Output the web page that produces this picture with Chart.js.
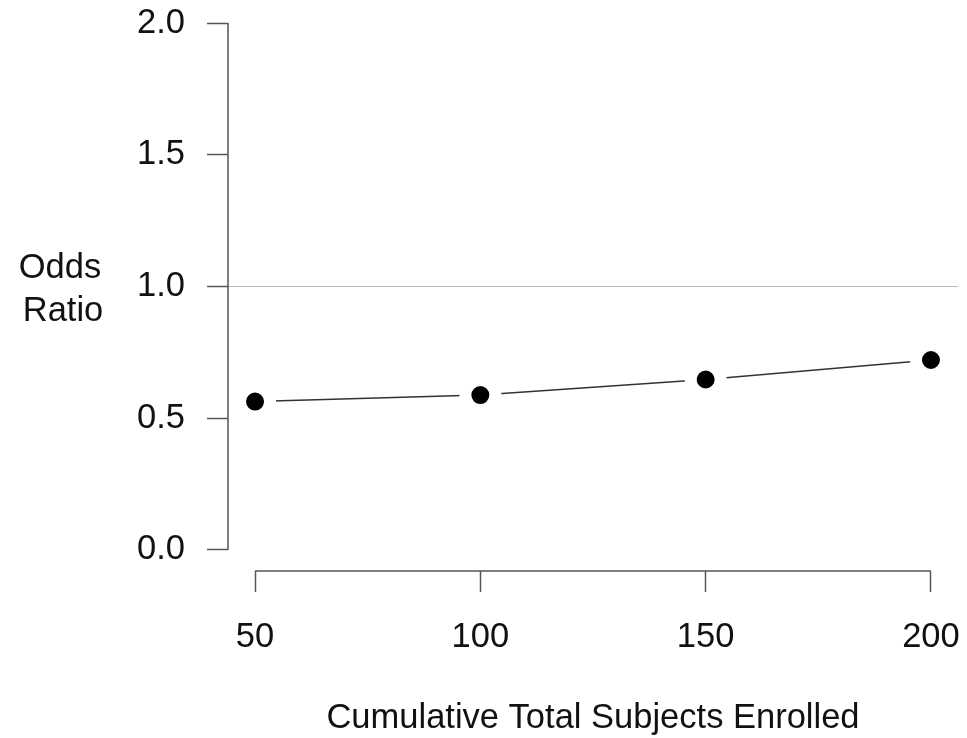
<!DOCTYPE html>
<html>
<head>
<meta charset="utf-8">
<script src="https://cdn.jsdelivr.net/npm/chart.js@4"></script>
<style>
  html, body { margin: 0; padding: 0; background: #fff; }
  #wrap { width: 967px; height: 738px; }
</style>
</head>
<body>
<div id="wrap"><canvas id="oddsChart"></canvas></div>
<script>
// data
const subjects = [50, 100, 150, 200];
const oddsRatio = [0.563, 0.588, 0.647, 0.721];
const xTicks = [50, 100, 150, 200];
const yTicks = [0.0, 0.5, 1.0, 1.5, 2.0];
const refLevel = 1.0;
const xTitle = 'Cumulative Total Subjects Enrolled';
const yTitle = ['Odds', 'Ratio'];

const FONT = '"Liberation Sans", Arial, sans-serif';
const FONT_SIZE = 34.5;

// R style: axes only span the tick range, plus a reference line and titles
const rAxes = {
    id: 'rAxes',
    beforeDatasetsDraw(chart) {
        const { ctx, chartArea, scales: { y } } = chart;
        const yRef = y.getPixelForValue(refLevel);
        ctx.save();
        ctx.strokeStyle = '#bdbdbd';
        ctx.lineWidth = 1;
        ctx.beginPath();
        ctx.moveTo(chartArea.left, yRef);
        ctx.lineTo(chartArea.right, yRef);
        ctx.stroke();
        ctx.restore();
    },
    afterDraw(chart) {
        const { ctx, chartArea, scales: { x, y } } = chart;
        ctx.save();
        ctx.strokeStyle = '#555';
        ctx.lineWidth = 1.5;
        ctx.beginPath();
        ctx.moveTo(chartArea.left, y.getPixelForValue(yTicks[0]));
        ctx.lineTo(chartArea.left, y.getPixelForValue(yTicks[yTicks.length - 1]));
        ctx.moveTo(x.getPixelForValue(xTicks[0]), chartArea.bottom);
        ctx.lineTo(x.getPixelForValue(xTicks[xTicks.length - 1]), chartArea.bottom);
        ctx.stroke();

        ctx.fillStyle = '#111';
        ctx.font = FONT_SIZE + 'px ' + FONT;
        ctx.textAlign = 'center';
        ctx.textBaseline = 'middle';
        ctx.fillText(xTitle, (chartArea.left + chartArea.right) / 2, 718);
        ctx.fillText(yTitle[0], 60, 268);
        ctx.fillText(yTitle[1], 63, 311);
        ctx.restore();
    }
};

const ctx = document.getElementById('oddsChart').getContext('2d');

new Chart(ctx, {
    type: 'line',
    data: {
        labels: subjects,
        datasets: [{
            data: subjects.map((s, i) => ({ x: s, y: oddsRatio[i] })),
            borderColor: '#333',
            borderWidth: 1.5,
            tension: 0,
            fill: false,
            // white ring leaves the gap between dot and line (type = "b")
            pointRadius: 15,
            pointHoverRadius: 15,
            pointBorderWidth: 12,
            pointBackgroundColor: '#000',
            pointBorderColor: '#fff',
            clip: false
        }]
    },
    options: {
        responsive: true,
        maintainAspectRatio: false,
        animation: false,
        events: [],
        layout: {
            autoPadding: false,
            padding: { left: 0, right: 9, top: 2, bottom: 0 }
        },
        plugins: {
            legend: { display: false },
            tooltip: { enabled: false }
        },
        scales: {
            x: {
                type: 'linear',
                min: 44,
                max: 206,
                afterBuildTicks: (s) => { s.ticks = xTicks.map(v => ({ value: v })); },
                afterFit: (s) => {
                    s.height = 167;
                    s.paddingLeft = 0;
                    s.paddingRight = 0;
                },
                border: { display: false },
                grid: {
                    drawOnChartArea: false,
                    drawTicks: true,
                    tickLength: 21,
                    tickWidth: 1.5,
                    tickColor: '#555'
                },
                ticks: {
                    color: '#111',
                    font: { family: FONT, size: FONT_SIZE },
                    padding: 25,
                    maxRotation: 0,
                    callback: (v) => String(v)
                }
            },
            y: {
                type: 'linear',
                min: -0.08,
                max: 2.08,
                afterBuildTicks: (s) => { s.ticks = yTicks.map(v => ({ value: v })); },
                afterFit: (s) => {
                    s.width = 228;
                    s.paddingTop = 0;
                    s.paddingBottom = 0;
                },
                border: { display: false },
                grid: {
                    drawOnChartArea: false,
                    drawTicks: true,
                    tickLength: 21,
                    tickWidth: 1.5,
                    tickColor: '#555'
                },
                ticks: {
                    color: '#111',
                    font: { family: FONT, size: FONT_SIZE },
                    padding: 22,
                    callback: (v) => Number(v).toFixed(1)
                }
            }
        }
    },
    plugins: [rAxes]
});
</script>
</body>
</html>
